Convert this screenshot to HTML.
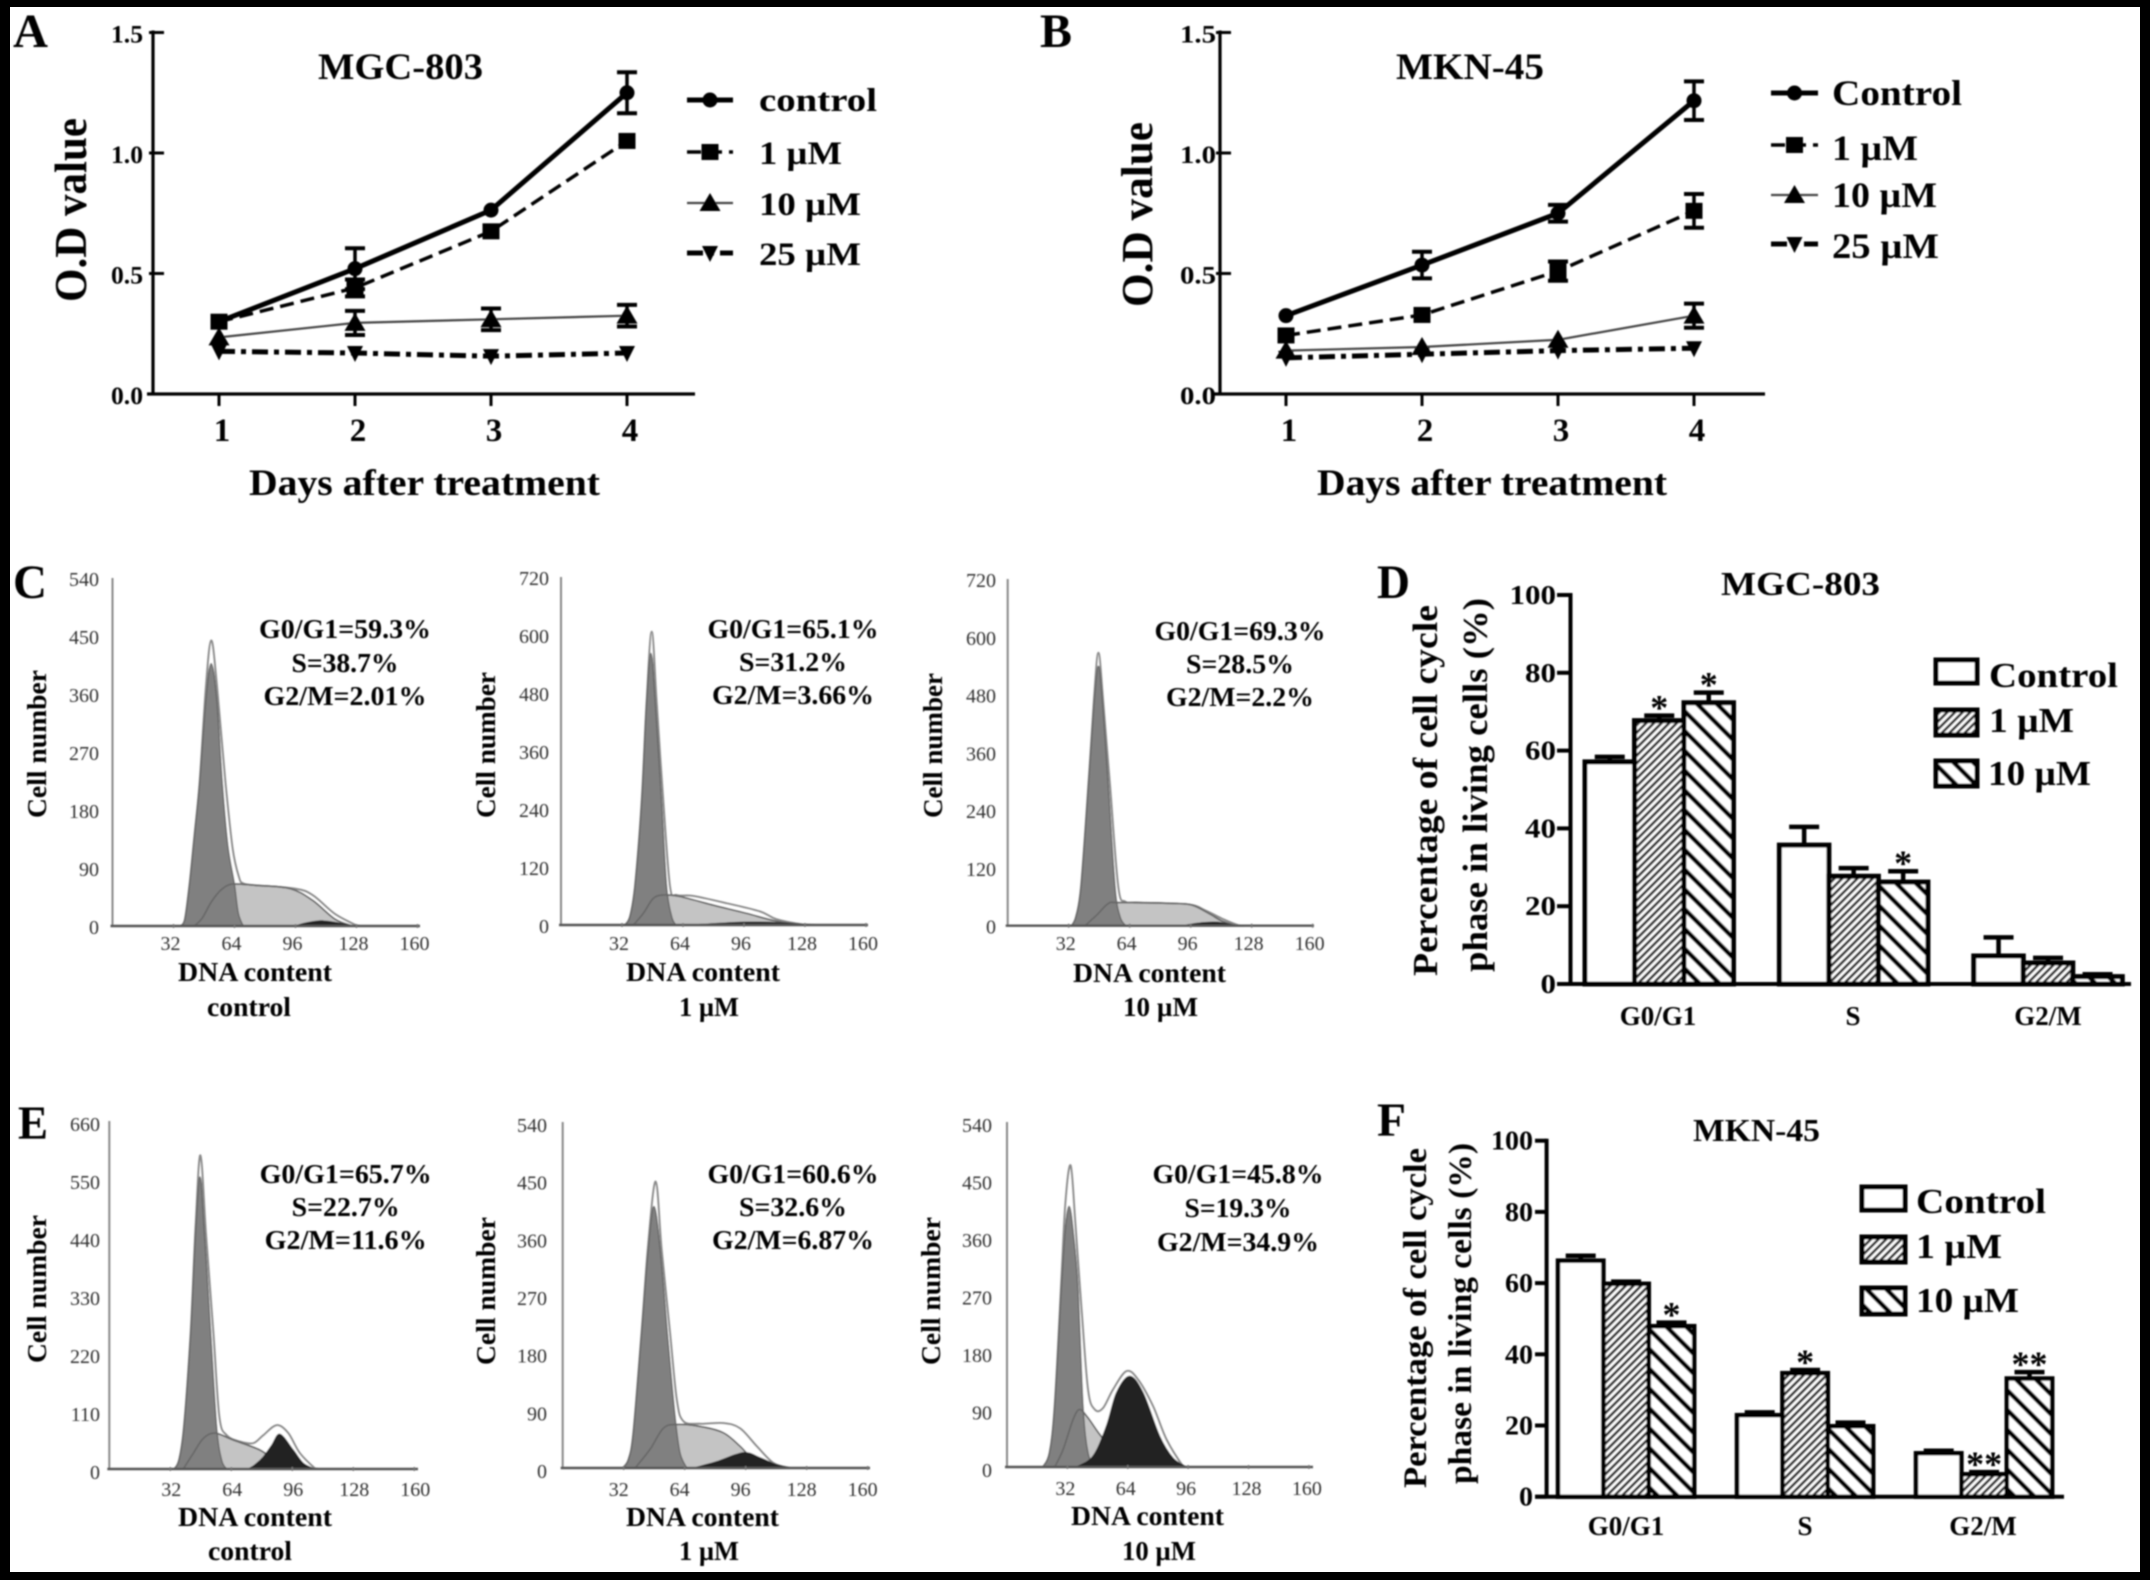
<!DOCTYPE html>
<html lang="en">
<head>
<meta charset="utf-8">
<title>Cell proliferation and cell cycle figure</title>
<style>
html,body{margin:0;padding:0;background:#000;}
svg{display:block;}
text{font-family:"Liberation Serif",serif;fill:#000;}
.b{font-weight:bold;}
.n{font-weight:normal;fill:#333;}
</style>
</head>
<body>
<svg id="figure" xmlns="http://www.w3.org/2000/svg" width="2150" height="1580" viewBox="0 0 2150 1580">
<defs>
<pattern id="fineHatch" patternUnits="userSpaceOnUse" width="5.4" height="5.4" patternTransform="rotate(45)">
<rect width="5.4" height="5.4" fill="#fff"/><rect width="2.7" height="5.4" fill="#333"/>
</pattern>
<pattern id="wideHatch" patternUnits="userSpaceOnUse" width="14" height="14" patternTransform="rotate(-45)">
<rect width="14" height="14" fill="#fff"/><rect width="4.6" height="14" fill="#000"/>
</pattern>
<filter id="soft" filterUnits="userSpaceOnUse" x="0" y="0" width="2150" height="1580"><feGaussianBlur stdDeviation="0.9"/></filter>
</defs>
<rect x="0" y="0" width="2150" height="1580" fill="#000"/>
<rect x="10" y="7" width="2130" height="1565" fill="#fff"/>
<g id="art" filter="url(#soft)">

<!-- Panel letters -->
<text class="b" x="13" y="47" font-size="48" textLength="35" lengthAdjust="spacingAndGlyphs">A</text>
<text class="b" x="1040" y="47" font-size="48" textLength="32" lengthAdjust="spacingAndGlyphs">B</text>
<text class="b" x="13" y="598" font-size="48" textLength="34" lengthAdjust="spacingAndGlyphs">C</text>
<text class="b" x="1377" y="598" font-size="48" textLength="33" lengthAdjust="spacingAndGlyphs">D</text>
<text class="b" x="18" y="1139" font-size="48" textLength="30" lengthAdjust="spacingAndGlyphs">E</text>
<text class="b" x="1377" y="1136" font-size="48" textLength="29" lengthAdjust="spacingAndGlyphs">F</text>

<!-- Panel A text -->
<text class="b" x="318" y="79" font-size="37" textLength="165" lengthAdjust="spacingAndGlyphs">MGC-803</text>
<text class="b" transform="translate(86,302) rotate(-90)" font-size="46" textLength="184" lengthAdjust="spacingAndGlyphs">O.D value</text>
<text class="b" x="249" y="495" font-size="37" textLength="351" lengthAdjust="spacingAndGlyphs">Days after treatment</text>
<text class="b" x="759" y="111" font-size="33" textLength="118" lengthAdjust="spacingAndGlyphs">control</text>
<text class="b" x="759" y="164" font-size="33" textLength="83" lengthAdjust="spacingAndGlyphs">1 µM</text>
<text class="b" x="759" y="215" font-size="33" textLength="102" lengthAdjust="spacingAndGlyphs">10 µM</text>
<text class="b" x="759" y="265" font-size="33" textLength="102" lengthAdjust="spacingAndGlyphs">25 µM</text>

<!-- Panel B text -->
<text class="b" x="1396" y="79" font-size="37" textLength="148" lengthAdjust="spacingAndGlyphs">MKN-45</text>
<text class="b" transform="translate(1152,307) rotate(-90)" font-size="44" textLength="185" lengthAdjust="spacingAndGlyphs">O.D value</text>
<text class="b" x="1317" y="495" font-size="37" textLength="350" lengthAdjust="spacingAndGlyphs">Days after treatment</text>
<text class="b" x="1832" y="105" font-size="36" textLength="130" lengthAdjust="spacingAndGlyphs">Control</text>
<text class="b" x="1832" y="160" font-size="36" textLength="86" lengthAdjust="spacingAndGlyphs">1 µM</text>
<text class="b" x="1832" y="207" font-size="36" textLength="105" lengthAdjust="spacingAndGlyphs">10 µM</text>
<text class="b" x="1832" y="258" font-size="36" textLength="107" lengthAdjust="spacingAndGlyphs">25 µM</text>

<!-- Flow panels text: row C -->
<text class="b" x="345" y="638" font-size="27" text-anchor="middle" textLength="172" lengthAdjust="spacingAndGlyphs">G0/G1=59.3%</text>
<text class="b" x="345" y="672" font-size="27" text-anchor="middle" textLength="107" lengthAdjust="spacingAndGlyphs">S=38.7%</text>
<text class="b" x="345" y="705" font-size="27" text-anchor="middle" textLength="163" lengthAdjust="spacingAndGlyphs">G2/M=2.01%</text>
<text class="b" x="178" y="981" font-size="27" textLength="154" lengthAdjust="spacingAndGlyphs">DNA content</text>
<text class="b" x="207" y="1016" font-size="27" textLength="84" lengthAdjust="spacingAndGlyphs">control</text>
<text class="b" transform="translate(46,818) rotate(-90)" font-size="27" textLength="148" lengthAdjust="spacingAndGlyphs">Cell number</text>

<text class="b" x="793" y="638" font-size="27" text-anchor="middle" textLength="171" lengthAdjust="spacingAndGlyphs">G0/G1=65.1%</text>
<text class="b" x="793" y="671" font-size="27" text-anchor="middle" textLength="108" lengthAdjust="spacingAndGlyphs">S=31.2%</text>
<text class="b" x="793" y="704" font-size="27" text-anchor="middle" textLength="162" lengthAdjust="spacingAndGlyphs">G2/M=3.66%</text>
<text class="b" x="626" y="981" font-size="27" textLength="154" lengthAdjust="spacingAndGlyphs">DNA content</text>
<text class="b" x="679" y="1016" font-size="27" textLength="60" lengthAdjust="spacingAndGlyphs">1 µM</text>
<text class="b" transform="translate(495,818) rotate(-90)" font-size="27" textLength="146" lengthAdjust="spacingAndGlyphs">Cell number</text>

<text class="b" x="1240" y="640" font-size="27" text-anchor="middle" textLength="171" lengthAdjust="spacingAndGlyphs">G0/G1=69.3%</text>
<text class="b" x="1240" y="673" font-size="27" text-anchor="middle" textLength="108" lengthAdjust="spacingAndGlyphs">S=28.5%</text>
<text class="b" x="1240" y="706" font-size="27" text-anchor="middle" textLength="148" lengthAdjust="spacingAndGlyphs">G2/M=2.2%</text>
<text class="b" x="1073" y="982" font-size="27" textLength="153" lengthAdjust="spacingAndGlyphs">DNA content</text>
<text class="b" x="1123" y="1016" font-size="27" textLength="75" lengthAdjust="spacingAndGlyphs">10 µM</text>
<text class="b" transform="translate(942,818) rotate(-90)" font-size="27" textLength="145" lengthAdjust="spacingAndGlyphs">Cell number</text>

<!-- Flow panels text: row E -->
<text class="b" x="345.7" y="1183" font-size="27" text-anchor="middle" textLength="172" lengthAdjust="spacingAndGlyphs">G0/G1=65.7%</text>
<text class="b" x="345.7" y="1216" font-size="27" text-anchor="middle" textLength="108" lengthAdjust="spacingAndGlyphs">S=22.7%</text>
<text class="b" x="345.7" y="1249" font-size="27" text-anchor="middle" textLength="162" lengthAdjust="spacingAndGlyphs">G2/M=11.6%</text>
<text class="b" x="178" y="1526" font-size="27" textLength="154" lengthAdjust="spacingAndGlyphs">DNA content</text>
<text class="b" x="208" y="1560" font-size="27" textLength="84" lengthAdjust="spacingAndGlyphs">control</text>
<text class="b" transform="translate(46,1363) rotate(-90)" font-size="27" textLength="148" lengthAdjust="spacingAndGlyphs">Cell number</text>

<text class="b" x="793" y="1183" font-size="27" text-anchor="middle" textLength="171" lengthAdjust="spacingAndGlyphs">G0/G1=60.6%</text>
<text class="b" x="793" y="1216" font-size="27" text-anchor="middle" textLength="108" lengthAdjust="spacingAndGlyphs">S=32.6%</text>
<text class="b" x="793" y="1249" font-size="27" text-anchor="middle" textLength="162" lengthAdjust="spacingAndGlyphs">G2/M=6.87%</text>
<text class="b" x="626" y="1526" font-size="27" textLength="153" lengthAdjust="spacingAndGlyphs">DNA content</text>
<text class="b" x="679" y="1560" font-size="27" textLength="60" lengthAdjust="spacingAndGlyphs">1 µM</text>
<text class="b" transform="translate(495,1365) rotate(-90)" font-size="27" textLength="148" lengthAdjust="spacingAndGlyphs">Cell number</text>

<text class="b" x="1238" y="1183" font-size="27" text-anchor="middle" textLength="171" lengthAdjust="spacingAndGlyphs">G0/G1=45.8%</text>
<text class="b" x="1238" y="1217" font-size="27" text-anchor="middle" textLength="107" lengthAdjust="spacingAndGlyphs">S=19.3%</text>
<text class="b" x="1238" y="1251" font-size="27" text-anchor="middle" textLength="162" lengthAdjust="spacingAndGlyphs">G2/M=34.9%</text>
<text class="b" x="1071" y="1525" font-size="27" textLength="153" lengthAdjust="spacingAndGlyphs">DNA content</text>
<text class="b" x="1122" y="1560" font-size="27" textLength="74" lengthAdjust="spacingAndGlyphs">10 µM</text>
<text class="b" transform="translate(940,1365) rotate(-90)" font-size="27" textLength="148" lengthAdjust="spacingAndGlyphs">Cell number</text>

<!-- Panel D text -->
<text class="b" x="1721" y="595" font-size="34" textLength="159" lengthAdjust="spacingAndGlyphs">MGC-803</text>
<text class="b" transform="translate(1437,976) rotate(-90)" font-size="35" textLength="371" lengthAdjust="spacingAndGlyphs">Percentage of cell cycle</text>
<text class="b" transform="translate(1487,972) rotate(-90)" font-size="35" textLength="374" lengthAdjust="spacingAndGlyphs">phase in living cells (%)</text>
<text class="b" x="1989" y="687" font-size="35" textLength="129" lengthAdjust="spacingAndGlyphs">Control</text>
<text class="b" x="1989" y="732" font-size="35" textLength="85" lengthAdjust="spacingAndGlyphs">1 µM</text>
<text class="b" x="1988" y="785" font-size="35" textLength="103" lengthAdjust="spacingAndGlyphs">10 µM</text>

<!-- Panel F text -->
<text class="b" x="1693" y="1141" font-size="32" textLength="127" lengthAdjust="spacingAndGlyphs">MKN-45</text>
<text class="b" transform="translate(1426,1488) rotate(-90)" font-size="33" textLength="340" lengthAdjust="spacingAndGlyphs">Percentage of cell cycle</text>
<text class="b" transform="translate(1471,1484) rotate(-90)" font-size="33" textLength="341" lengthAdjust="spacingAndGlyphs">phase in living cells (%)</text>
<text class="b" x="1916" y="1213" font-size="35" textLength="130" lengthAdjust="spacingAndGlyphs">Control</text>
<text class="b" x="1916" y="1258" font-size="35" textLength="86" lengthAdjust="spacingAndGlyphs">1 µM</text>
<text class="b" x="1916" y="1312" font-size="35" textLength="103" lengthAdjust="spacingAndGlyphs">10 µM</text>

<!-- Bar legend swatches -->
<rect x="1936" y="660" width="41" height="23" fill="#fff" stroke="#000" stroke-width="5"/>
<rect x="1936" y="710" width="41" height="25" fill="url(#fineHatch)" stroke="#000" stroke-width="5"/>
<rect x="1936" y="761" width="41" height="25" fill="url(#wideHatch)" stroke="#000" stroke-width="5"/>
<rect x="1862" y="1187" width="43" height="23" fill="#fff" stroke="#000" stroke-width="5"/>
<rect x="1862" y="1237" width="43" height="25" fill="url(#fineHatch)" stroke="#000" stroke-width="5"/>
<rect x="1862" y="1288" width="43" height="26" fill="url(#wideHatch)" stroke="#000" stroke-width="5"/>
</g>
</svg>

<script>
// ---------- Line chart data ----------
const days = [1, 2, 3, 4];
const odTicks = [0, 0.5, 1, 1.5];

const aControl = [0.30, 0.52, 0.763, 1.25];
const aControlErr = [0, 0.085, 0, 0.085];
const a1uM = [0.30, 0.44, 0.675, 1.05];
const a1uMErr = [0, 0.035, 0, 0];
const a10uM = [0.235, 0.295, 0.31, 0.325];
const a10uMErr = [0, 0.05, 0.045, 0.045];
const a25uM = [0.177, 0.17, 0.157, 0.17];
const a25uMErr = [0, 0, 0, 0];

const bControl = [0.325, 0.535, 0.75, 1.217];
const bControlErr = [0, 0.055, 0.035, 0.08];
const b1uM = [0.243, 0.328, 0.51, 0.76];
const b1uMErr = [0, 0, 0.04, 0.07];
const b10uM = [0.18, 0.195, 0.225, 0.325];
const b10uMErr = [0, 0, 0, 0.05];
const b25uM = [0.15, 0.165, 0.18, 0.19];
const b25uMErr = [0, 0, 0, 0];

// ---------- Bar chart data ----------
const phases = ['G0/G1', 'S', 'G2/M'];
const pctTicks = [0, 20, 40, 60, 80, 100];

const dControl = [57.1, 35.7, 7.2];
const dControlErr = [1.3, 4.7, 4.8];
const d1uM = [67.7, 27.7, 5.4];
const d1uMErr = [1.3, 2.1, 1.3];
const d10uM = [72.3, 26.2, 1.9];
const d10uMErr = [2.6, 2.8, 0.6];
const dStars1uM = ['*', '', ''];
const dStars10uM = ['*', '*', ''];

const fControl = [66.3, 22.9, 12.2];
const fControlErr = [1.4, 0.8, 0.7];
const f1uM = [59.8, 34.7, 6.3];
const f1uMErr = [0.6, 0.9, 0.6];
const f10uM = [47.9, 19.8, 33.2];
const f10uMErr = [1.0, 1.0, 1.8];
const fStars1uM = ['', '*', '**'];
const fStars10uM = ['*', '', '**'];

// ---------- Flow histogram data: [DNA content, cell count] ----------
const dnaTicks = [32, 64, 96, 128, 160];
const c1Ticks = [0, 90, 180, 270, 360, 450, 540];
const c2Ticks = [0, 120, 240, 360, 480, 600, 720];
const c3Ticks = [0, 120, 240, 360, 480, 600, 720];
const e1Ticks = [0, 110, 220, 330, 440, 550, 660];
const e2Ticks = [0, 90, 180, 270, 360, 450, 540];
const e3Ticks = [0, 90, 180, 270, 360, 450, 540];

const c1G1 = [[35.8,0],[38,10],[40.5,66],[43,140],[45.7,221],[49,350],[51.8,407],[54.7,350],[57.6,221],[60.5,125],[63.9,66],[66,20],[68.6,0]];
const c1S = [[42.9,0],[47,12],[52,38],[57,56],[62.8,65],[75,63],[93.2,58],[104.9,40],[116.6,11],[126,0]];
const c1G2 = [[95.6,0],[102,5],[109.6,8],[118,5],[126,0]];
const c1Total = [[35.8,0],[38,10],[40.5,66],[43,140],[45.7,221],[49,370],[51.8,443],[54.7,375],[59.3,221],[63,120],[66.3,76],[68.6,66],[75,63],[95.6,58],[105,48],[116.6,19],[128,1],[130,0]];

const c2G1 = [[33.6,0],[36.2,17],[38.8,79],[42.3,252],[44.9,459],[47.2,562],[49.5,459],[52.8,252],[55.4,79],[58.1,17],[60.3,0]];
const c2S = [[38,0],[43.2,24],[48.4,55],[53.7,62],[62.4,59],[79.9,41],[97.4,24],[113,8],[127,1],[136,0]];
const c2G2 = [[68,0],[96,6],[113,5],[130,0]];
const c2Total = [[33.6,0],[36.2,17],[38.8,79],[42.3,252],[44.9,459],[47.6,607],[50.2,459],[53.7,252],[57.2,79],[60.7,62],[69.4,60],[86.9,45],[104.4,28],[113,12],[127,1],[136,0]];

const c3G1 = [[33.6,0],[35.9,19],[38.5,81],[42.3,288],[45.3,460],[47.6,539],[49.8,460],[52.8,288],[56.3,81],[58.9,19],[61.9,0]];
const c3S = [[40.6,0],[46.7,22],[52.8,46],[58,48],[86,46],[96.5,43],[105.3,26],[112.3,10],[119.3,1],[122.8,0]];
const c3G2 = [[91.3,0],[101.8,6],[110.5,7],[119.3,0]];
const c3Total = [[33.6,0],[35.9,19],[38.5,81],[42.3,288],[45.3,470],[47.6,567],[50,470],[53.7,288],[58,81],[61.6,50],[68.6,48],[94.8,44],[103.5,32],[112.3,15],[121,1],[124,0]];

const e1G1 = [[34.1,0],[36.6,17],[39.2,80],[42.7,257],[45.3,447],[47.6,554],[49.9,447],[53.2,257],[56.3,80],[58.9,17],[61.6,0]];
const e1S = [[38.8,0],[44.1,30],[49.3,58],[55.4,68],[65,55],[79,36],[87.8,14],[96.5,1],[100,0]];
const e1G2 = [[72.9,0],[76.4,8],[80.8,23],[85.2,45],[89.5,66],[96.5,36],[101.8,11],[107.9,0]];
const e1Total = [[34.1,0],[36.6,17],[39.2,80],[42.7,257],[45.3,460],[47.8,595],[50.7,447],[54.6,257],[57.7,99],[61.6,64],[68.6,52],[75.6,49],[80.8,64],[87.8,83],[93.9,68],[100,30],[108,1],[110,0]];

const e2G1 = [[31.5,0],[34.5,13],[37.1,55],[41.4,211],[44.9,341],[47.9,408],[51.1,341],[54.9,211],[58.9,81],[61.6,23],[65.1,0]];
const e2S = [[38,0],[45.8,29],[52.8,62],[59.8,68],[72,65],[84.3,55],[93,34],[100,13],[107,3],[112.3,0]];
const e2G2 = [[68.6,0],[80.8,10],[94.8,24],[103.5,16],[112.3,5],[120,0]];
const e2Total = [[31.5,0],[34.5,13],[37.1,55],[41.4,211],[44.9,350],[48.8,447],[51.9,341],[56.3,211],[59.8,107],[63.3,73],[72,69],[84.3,70],[93,62],[101.8,34],[110.5,8],[119.3,0]];

const e3G1 = [[19.1,0],[22.6,22],[25.3,95],[28.8,278],[30.9,371],[32.9,408],[35,371],[37.6,278],[40.3,95],[42.9,22],[46.5,0]];
const e3S = [[25.3,0],[29.7,27],[35,74],[38.5,90],[42.9,77],[49.1,51],[56.2,25],[63.3,6],[68.6,0]];
const e3G2 = [[36.7,0],[45.6,17],[52.7,64],[58,116],[65,142],[72.1,116],[80.9,48],[88,14],[95,0]];
const e3Total = [[19.1,0],[22.6,22],[25.3,95],[28.8,290],[30.9,410],[33.7,472],[36.2,382],[39.4,251],[42.9,121],[46.5,90],[50.9,92],[56.2,121],[63.3,150],[69.4,137],[77.4,95],[84.5,43],[93.3,1],[95,0]];

// ---------- Drawing ----------
const NS = 'http://www.w3.org/2000/svg';
const art = document.getElementById('art');

function add(parent, tag, name, attrs, text) {
  const el = document.createElementNS(NS, tag);
  
  
  for (const k in attrs) el.setAttribute(k, attrs[k]);
  if (text !== undefined) el.textContent = text;
  parent.appendChild(el);
  return el;
}

function marker(g, kind, name, x, y) {
  if (kind === 'circle') {
    add(g, 'circle', name, {cx: x, cy: y, r: 7.5, fill: '#000'});
  } else if (kind === 'square') {
    add(g, 'rect', name, {x: x - 8.5, y: y - 8, width: 17, height: 16, fill: '#000'});
  } else if (kind === 'up') {
    add(g, 'polygon', name, {points: [x - 10.5, y + 8, x + 10.5, y + 8, x, y - 10].join(','), fill: '#000'});
  } else {
    add(g, 'polygon', name, {points: [x - 8, y - 7, x + 8, y - 7, x, y + 9].join(','), fill: '#000'});
  }
}

const lineStyles = [
  {key: '25um', w: 5, dash: '16 6 5 6', color: '#000', mark: 'down'},
  {key: '10um', w: 2.2, dash: 'none', color: '#444', mark: 'up'},
  {key: '1um', w: 3.5, dash: '14 7', color: '#000', mark: 'square'},
  {key: 'control', w: 5, dash: 'none', color: '#000', mark: 'circle'}
];

function lineChart(cfg) {
  const g = add(art, 'g', cfg.id + '-chart', {});
  const x = d => cfg.x1 + (d - 1) * cfg.step;
  const y = v => cfg.y0 - v * cfg.unit;
  add(g, 'line', cfg.id + '-y-axis', {x1: cfg.ax, x2: cfg.ax, y1: y(1.5) - 2, y2: cfg.y0 + 1.5, stroke: '#000', 'stroke-width': 3.2});
  add(g, 'line', cfg.id + '-x-axis', {x1: cfg.ax - 6, x2: cfg.xEnd, y1: cfg.y0, y2: cfg.y0, stroke: '#000', 'stroke-width': 3.2});
  odTicks.forEach(v => {
    add(g, 'line', cfg.id + '-y-tick', {x1: cfg.ax - 4, x2: cfg.ax + 11, y1: y(v), y2: y(v), stroke: '#000', 'stroke-width': 3});
    add(g, 'text', cfg.id + '-y-tick-label', {class: 'b', x: cfg.ax - cfg.labelGap, y: y(v) + 10, 'font-size': 25, 'text-anchor': 'end', textLength: cfg.labelLen, lengthAdjust: 'spacingAndGlyphs'}, v.toFixed(1));
  });
  days.forEach(d => {
    add(g, 'line', cfg.id + '-x-tick', {x1: x(d), x2: x(d), y1: cfg.y0, y2: cfg.y0 + 12, stroke: '#000', 'stroke-width': 3});
    add(g, 'text', cfg.id + '-x-tick-label', {class: 'b', x: x(d) + 3, y: 441, 'font-size': 33, 'text-anchor': 'middle'}, String(d));
  });
  lineStyles.forEach((st, i) => {
    const vals = cfg.series[i], errs = cfg.errors[i];
    const sg = add(g, 'g', cfg.id + '-series-' + st.key, {});
    add(sg, 'polyline', cfg.id + '-line-' + st.key, {
      points: days.map((d, j) => x(d) + ',' + y(vals[j])).join(' '),
      fill: 'none', stroke: st.color, 'stroke-width': st.w, 'stroke-dasharray': st.dash, 'stroke-linejoin': 'round'
    });
    days.forEach((d, j) => {
      if (errs[j] > 0) {
        const hi = y(vals[j] + errs[j]), lo = y(vals[j] - errs[j]);
        add(sg, 'line', cfg.id + '-error-stem-' + st.key, {x1: x(d), x2: x(d), y1: hi, y2: lo, stroke: '#000', 'stroke-width': 3.5});
        add(sg, 'line', cfg.id + '-error-cap-' + st.key, {x1: x(d) - 10, x2: x(d) + 10, y1: hi, y2: hi, stroke: '#000', 'stroke-width': 4});
        add(sg, 'line', cfg.id + '-error-cap-' + st.key, {x1: x(d) - 10, x2: x(d) + 10, y1: lo, y2: lo, stroke: '#000', 'stroke-width': 4});
      }
      marker(sg, st.mark, cfg.id + '-point-' + st.key, x(d), y(vals[j]));
    });
  });
  const order = ['control', '1um', '10um', '25um'];
  order.forEach((key, i) => {
    const st = lineStyles.find(s => s.key === key);
    const ly = cfg.legendY[i];
    const mid = (cfg.legendX[0] + cfg.legendX[1]) / 2;
    add(g, 'line', cfg.id + '-legend-line-' + key, {x1: cfg.legendX[0], x2: cfg.legendX[1], y1: ly, y2: ly, stroke: st.color, 'stroke-width': st.w, 'stroke-dasharray': st.dash});
    marker(g, st.mark, cfg.id + '-legend-marker-' + key, mid, ly);
  });
}

lineChart({
  id: 'panel-a', ax: 153, y0: 394, unit: 241, x1: 219, step: 136, xEnd: 695, labelGap: 10, labelLen: 32,
  series: [a25uM, a10uM, a1uM, aControl], errors: [a25uMErr, a10uMErr, a1uMErr, aControlErr],
  legendX: [687, 733], legendY: [100, 152, 203, 253]
});
lineChart({
  id: 'panel-b', ax: 1220, y0: 394, unit: 241, x1: 1286, step: 136, xEnd: 1765, labelGap: 4, labelLen: 36,
  series: [b25uM, b10uM, b1uM, bControl], errors: [b25uMErr, b10uMErr, b1uMErr, bControlErr],
  legendX: [1771, 1818], legendY: [93, 145, 195, 244]
});

function smooth(pts, yMaxPx) {
  let d = 'M' + pts[0][0].toFixed(1) + ',' + pts[0][1].toFixed(1);
  for (let i = 0; i < pts.length - 1; i++) {
    const p0 = pts[Math.max(i - 1, 0)], p1 = pts[i], p2 = pts[i + 1], p3 = pts[Math.min(i + 2, pts.length - 1)];
    const c1x = p1[0] + (p2[0] - p0[0]) / 6, c1y = Math.min(yMaxPx, p1[1] + (p2[1] - p0[1]) / 6);
    const c2x = p2[0] - (p3[0] - p1[0]) / 6, c2y = Math.min(yMaxPx, p2[1] - (p3[1] - p1[1]) / 6);
    d += 'C' + [c1x, c1y, c2x, c2y, p2[0], p2[1]].map(n => n.toFixed(1)).join(',');
  }
  return d;
}

function flowChart(cfg) {
  const g = add(art, 'g', cfg.id + '-histogram', {});
  const x = v => cfg.ax + v * cfg.dnaScale;
  const yMax = cfg.ticks[cfg.ticks.length - 1];
  const y = v => cfg.y0 - v * (cfg.y0 - cfg.top) / yMax;
  const px = arr => arr.map(p => [x(p[0]), y(p[1])]);
  add(g, 'path', cfg.id + '-total-fit', {d: smooth(px(cfg.total), cfg.y0) + 'Z', fill: '#fff', stroke: '#8a8a8a', 'stroke-width': 2});
  add(g, 'path', cfg.id + '-s-phase', {d: smooth(px(cfg.s), cfg.y0) + 'Z', fill: '#c4c4c4', stroke: '#6e6e6e', 'stroke-width': 1.6});
  add(g, 'path', cfg.id + '-g1-phase', {d: smooth(px(cfg.g1), cfg.y0) + 'Z', fill: '#808080', stroke: '#666', 'stroke-width': 1.4});
  add(g, 'path', cfg.id + '-s-phase-outline', {d: smooth(px(cfg.s), cfg.y0), fill: 'none', stroke: '#666', 'stroke-width': 1.6});
  add(g, 'path', cfg.id + '-g2-phase', {d: smooth(px(cfg.g2), cfg.y0) + 'Z', fill: '#242424', stroke: '#222', 'stroke-width': 1});
  add(g, 'line', cfg.id + '-y-axis', {x1: cfg.ax, x2: cfg.ax, y1: cfg.top, y2: cfg.y0, stroke: '#888', 'stroke-width': 2});
  add(g, 'line', cfg.id + '-x-axis', {x1: cfg.ax - 2, x2: cfg.xEnd, y1: cfg.y0, y2: cfg.y0, stroke: '#555', 'stroke-width': 2.4});
  cfg.ticks.forEach(v => {
    add(g, 'text', cfg.id + '-y-tick-label', {class: 'n', x: cfg.labelRight, y: y(v) + cfg.labelDy, 'font-size': 20, 'text-anchor': 'end'}, String(v));
  });
  dnaTicks.forEach(v => {
    add(g, 'line', cfg.id + '-x-tick', {x1: x(v), x2: x(v), y1: cfg.y0 - 2, y2: cfg.y0 + 2, stroke: '#777', 'stroke-width': 1.5});
    add(g, 'text', cfg.id + '-x-tick-label', {class: 'n', x: x(v) + cfg.xLabelDx, y: cfg.xLabelBase, 'font-size': 20, 'text-anchor': 'middle'}, String(v));
  });
}

flowChart({id: 'c1', ax: 112.5, y0: 926, top: 578, xEnd: 420, dnaScale: 1.906, ticks: c1Ticks, g1: c1G1, s: c1S, g2: c1G2, total: c1Total, labelRight: 99, labelDy: 8, xLabelBase: 950, xLabelDx: -3});
flowChart({id: 'c2', ax: 561, y0: 925, top: 577, xEnd: 868, dnaScale: 1.906, ticks: c2Ticks, g1: c2G1, s: c2S, g2: c2G2, total: c2Total, labelRight: 549, labelDy: 8, xLabelBase: 950, xLabelDx: -3});
flowChart({id: 'c3', ax: 1007.7, y0: 925.7, top: 579, xEnd: 1314, dnaScale: 1.906, ticks: c3Ticks, g1: c3G1, s: c3S, g2: c3G2, total: c3Total, labelRight: 996, labelDy: 8, xLabelBase: 950, xLabelDx: -3});
flowChart({id: 'e1', ax: 109.3, y0: 1469, top: 1121, xEnd: 418, dnaScale: 1.906, ticks: e1Ticks, g1: e1G1, s: e1S, g2: e1G2, total: e1Total, labelRight: 100, labelDy: 10, xLabelBase: 1496, xLabelDx: 1});
flowChart({id: 'e2', ax: 562.7, y0: 1468, top: 1122, xEnd: 870, dnaScale: 1.906, ticks: e2Ticks, g1: e2G1, s: e2S, g2: e2G2, total: e2Total, labelRight: 547, labelDy: 10, xLabelBase: 1496, xLabelDx: -5});
flowChart({id: 'e3', ax: 1007, y0: 1467, top: 1122, xEnd: 1313, dnaScale: 1.887, ticks: e3Ticks, g1: e3G1, s: e3S, g2: e3G2, total: e3Total, labelRight: 992, labelDy: 10, xLabelBase: 1495, xLabelDx: -2});

function barChart(cfg) {
  const g = add(art, 'g', cfg.id + '-bar-chart', {});
  const y = v => cfg.y0 - v * cfg.unit;
  const barX = (grp, s) => cfg.start + grp * cfg.groupStep + s * cfg.barW;
  const fills = ['#fff', 'url(#fineHatch)', 'url(#wideHatch)'];
  const keys = ['control', '1um', '10um'];
  add(g, 'line', cfg.id + '-y-axis', {x1: cfg.ax, x2: cfg.ax, y1: y(100) - 2, y2: cfg.y0, stroke: '#000', 'stroke-width': 4});
  pctTicks.forEach(v => {
    add(g, 'line', cfg.id + '-y-tick', {x1: cfg.tickLeft, x2: cfg.ax, y1: y(v), y2: y(v), stroke: '#000', 'stroke-width': 4});
    add(g, 'text', cfg.id + '-y-tick-label', {class: 'b', x: cfg.labelRight, y: y(v) + 9, 'font-size': 27, 'text-anchor': 'end', textLength: String(v).length * cfg.digitW, lengthAdjust: 'spacingAndGlyphs'}, String(v));
  });
  phases.forEach((p, grp) => {
    cfg.series.forEach((vals, s) => {
      const bx = barX(grp, s), cx = bx + cfg.barW / 2;
      const top = y(vals[grp]), hi = y(vals[grp] + cfg.errors[s][grp]);
      add(g, 'line', cfg.id + '-error-stem-' + keys[s], {x1: cx, x2: cx, y1: top, y2: hi, stroke: '#000', 'stroke-width': 4.5});
      add(g, 'line', cfg.id + '-error-cap-' + keys[s], {x1: cx - 15, x2: cx + 15, y1: hi, y2: hi, stroke: '#000', 'stroke-width': 4.5});
      add(g, 'rect', cfg.id + '-bar-' + keys[s], {x: bx, y: top, width: cfg.barW, height: cfg.y0 - top, fill: fills[s], stroke: '#000', 'stroke-width': cfg.barStroke});
      const star = cfg.stars[s] ? cfg.stars[s][grp] : '';
      if (star) {
        add(g, 'text', cfg.id + '-significance-mark', {class: 'b', x: cx, y: hi - 13 + 17, 'font-size': 36, 'text-anchor': 'middle'}, star);
      }
    });
    add(g, 'text', cfg.id + '-x-tick-label', {class: 'b', x: cfg.catX[grp], y: cfg.catBase, 'font-size': 27, 'text-anchor': 'middle'}, p);
  });
  add(g, 'line', cfg.id + '-x-axis', {x1: cfg.tickLeft, x2: cfg.xEnd, y1: cfg.y0, y2: cfg.y0, stroke: '#000', 'stroke-width': 4});
}

barChart({
  id: 'panel-d', ax: 1570.5, y0: 984, unit: 3.89, start: 1585, groupStep: 194.4, barW: 49.5, barStroke: 5,
  tickLeft: 1557, labelRight: 1556, digitW: 15.5, xEnd: 2131, catX: [1658, 1853, 2048], catBase: 1025,
  series: [dControl, d1uM, d10uM], errors: [dControlErr, d1uMErr, d10uMErr], stars: [null, dStars1uM, dStars10uM]
});
barChart({
  id: 'panel-f', ax: 1546.6, y0: 1496.7, unit: 3.56, start: 1558, groupStep: 179, barW: 45.4, barStroke: 4.5,
  tickLeft: 1535, labelRight: 1533, digitW: 14, xEnd: 2064, catX: [1626, 1805, 1983], catBase: 1535,
  series: [fControl, f1uM, f10uM], errors: [fControlErr, f1uMErr, f10uMErr], stars: [null, fStars1uM, fStars10uM]
});
</script>
</body>
</html>
